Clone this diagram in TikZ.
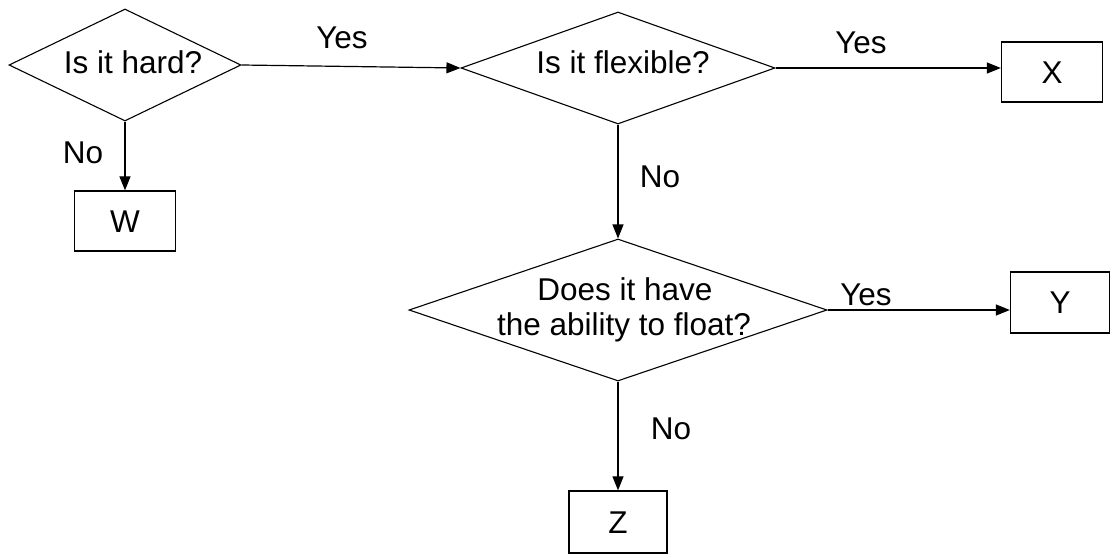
\documentclass[tikz,border=0pt]{standalone}
\usepackage{fontspec}
\setmainfont{Liberation Sans}
\usetikzlibrary{shapes.geometric,arrows.meta}
\begin{document}
\begin{tikzpicture}[x=1pt,y=-1pt,
  dia/.style={shape=diamond,draw,line width=1.1pt,inner sep=0pt},
  box/.style={draw,line width=1.3pt,inner sep=0pt},
  txt/.style={inner sep=0pt,anchor=base,font=\fontsize{31.5}{35}\selectfont},
  arr/.style={draw,line width=1.2pt,-{Triangle[length=14pt,width=11pt]}}]
\useasboundingbox (0,0) rectangle (1110,554);
% decisions
\node[dia,minimum width=232pt,minimum height=112pt] (d1) at (125,65) {};
\node[dia,minimum width=314pt,minimum height=112pt] (d2) at (618,68) {};
\node[dia,minimum width=418pt,minimum height=142pt] (d3) at (618,310) {};
\node[txt] (d1t) at (133,73) {Is it hard?};
\node[txt] (d2t) at (623,73) {Is it flexible?};
\node[txt] (d3t1) at (625,300) {Does it have};
\node[txt] (d3t2) at (624,335) {the ability to float?};
% boxes
\node[box,minimum width=101pt,minimum height=60pt] (W) at (125,221) {};
\node[txt] (Wt) at (125,232) {W};
\node[box,minimum width=101pt,minimum height=60pt] (X) at (1052,72) {};
\node[txt] (Xt) at (1052,83) {X};
\node[box,minimum width=99pt,minimum height=61pt] (Y) at (1060,302.5) {};
\node[txt] (Yt) at (1060,313) {Y};
\node[box,minimum width=98pt,minimum height=62pt] (Z) at (618,522) {};
\node[txt] (Zt) at (618,533) {Z};
% connectors
\draw[arr] (d1.east) -- (d2.west);
\draw[arr] (d1.south) -- (W.north);
\draw[arr] (d2.east) -- (d2.east -| X.west);
\draw[arr] (d2.south) -- (d3.north);
\draw[arr] (d3.east) -- (d3.east -| Y.west);
\draw[arr] (d3.south) -- (Z.north);
% labels
\node[txt] (l1) at (342,48) {Yes};
\node[txt] (l2) at (83,163) {No};
\node[txt] (l3) at (861,53) {Yes};
\node[txt] (l4) at (660,187) {No};
\node[txt] (l5) at (866,305) {Yes};
\node[txt] (l6) at (671,439) {No};
\end{tikzpicture}
\end{document}
